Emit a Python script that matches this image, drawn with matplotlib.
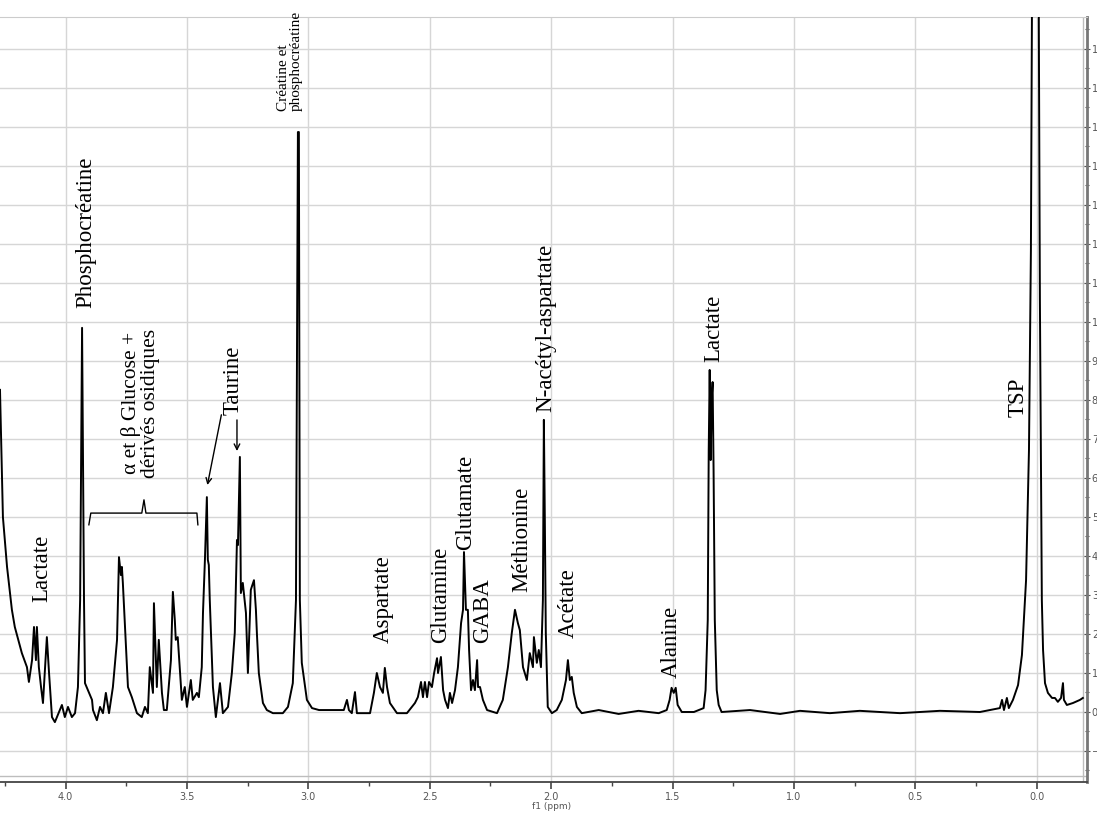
import numpy as np
import matplotlib
matplotlib.use('Agg')
import matplotlib.pyplot as plt
from matplotlib.ticker import MultipleLocator

# spectrum trace: chemical shift (ppm) and intensity
ppm = [4.270, 4.258, 4.241, 4.221, 4.209, 4.180, 4.159, 4.151, 4.138, 4.130,
       4.122, 4.118, 4.110, 4.101, 4.093, 4.077, 4.068, 4.056, 4.044, 4.015,
       4.003, 3.990, 3.974, 3.961, 3.949, 3.940, 3.932, 3.924, 3.920, 3.908,
       3.891, 3.887, 3.871, 3.858, 3.846, 3.834, 3.821, 3.805, 3.788, 3.780,
       3.772, 3.768, 3.764, 3.756, 3.743, 3.727, 3.706, 3.686, 3.673, 3.661,
       3.653, 3.640, 3.636, 3.628, 3.624, 3.616, 3.603, 3.595, 3.583, 3.566,
       3.558, 3.550, 3.546, 3.538, 3.521, 3.509, 3.500, 3.484, 3.476, 3.459,
       3.451, 3.439, 3.434, 3.426, 3.418, 3.414, 3.410, 3.406, 3.393, 3.381,
       3.364, 3.352, 3.331, 3.315, 3.303, 3.294, 3.290, 3.282, 3.278, 3.270,
       3.257, 3.249, 3.237, 3.233, 3.224, 3.216, 3.212, 3.204, 3.187, 3.171,
       3.146, 3.105, 3.084, 3.064, 3.051, 3.043, 3.039, 3.035, 3.027, 3.006,
       2.985, 2.956, 2.903, 2.854, 2.841, 2.833, 2.821, 2.808, 2.800, 2.746,
       2.730, 2.718, 2.705, 2.693, 2.685, 2.676, 2.664, 2.635, 2.594, 2.561,
       2.549, 2.536, 2.528, 2.520, 2.511, 2.503, 2.491, 2.482, 2.470, 2.466,
       2.454, 2.445, 2.437, 2.425, 2.417, 2.408, 2.396, 2.384, 2.371, 2.363,
       2.359, 2.351, 2.343, 2.338, 2.330, 2.322, 2.314, 2.305, 2.301, 2.293,
       2.281, 2.264, 2.223, 2.199, 2.178, 2.162, 2.149, 2.137, 2.129, 2.116,
       2.100, 2.088, 2.075, 2.071, 2.059, 2.051, 2.042, 2.034, 2.030, 2.026,
       2.022, 2.014, 1.997, 1.977, 1.956, 1.939, 1.931, 1.923, 1.915, 1.907,
       1.894, 1.874, 1.804, 1.722, 1.640, 1.557, 1.524, 1.512, 1.504, 1.495,
       1.487, 1.479, 1.462, 1.412, 1.372, 1.364, 1.355, 1.351, 1.347, 1.343,
       1.339, 1.335, 1.331, 1.326, 1.318, 1.310, 1.298, 1.181, 1.057, 0.975,
       0.852, 0.729, 0.563, 0.399, 0.234, 0.152, 0.143, 0.135, 0.123, 0.115,
       0.098, 0.077, 0.061, 0.044, 0.032, 0.024, 0.016, 0.005, -0.005, -0.013,
       -0.021, -0.026, -0.034, -0.046, -0.063, -0.075, -0.087, -0.100, -0.108, -0.112,
       -0.124, -0.149, -0.178, -0.190]
intensity = [8.26, 5.00, 3.72, 2.62, 2.18, 1.51, 1.15, 0.77, 1.33, 2.18,
             1.33, 2.18, 1.15, 0.64, 0.23, 1.92, 1.00, -0.13, -0.26, 0.18,
             -0.13, 0.13, -0.13, -0.03, 0.64, 2.87, 9.85, 2.87, 0.74, 0.56,
             0.31, 0.05, -0.21, 0.13, -0.03, 0.49, -0.03, 0.64, 1.85, 3.97,
             3.51, 3.72, 3.31, 2.28, 0.64, 0.38, -0.03, -0.13, 0.13, -0.03,
             1.15, 0.49, 2.79, 1.33, 0.64, 1.85, 0.49, 0.05, 0.05, 1.33,
             3.08, 2.36, 1.85, 1.92, 0.31, 0.64, 0.13, 0.82, 0.31, 0.49,
             0.38, 1.15, 2.54, 3.90, 5.51, 3.90, 3.77, 2.87, 0.64, -0.13,
             0.74, -0.03, 0.13, 1.00, 2.03, 4.41, 4.28, 6.54, 3.05, 3.31,
             2.54, 1.00, 3.13, 3.21, 3.38, 2.62, 2.03, 1.00, 0.23, 0.05,
             -0.03, -0.03, 0.13, 0.74, 2.87, 14.87, 14.87, 2.87, 1.26, 0.31,
             0.10, 0.05, 0.05, 0.05, 0.31, 0.05, -0.03, 0.51, -0.03, -0.03,
             0.49, 1.00, 0.64, 0.49, 1.13, 0.64, 0.23, -0.03, -0.03, 0.23,
             0.38, 0.77, 0.38, 0.77, 0.38, 0.77, 0.64, 1.00, 1.38, 1.00,
             1.41, 0.56, 0.31, 0.10, 0.49, 0.23, 0.56, 1.15, 2.28, 2.62,
             4.10, 2.62, 2.62, 1.59, 0.56, 0.82, 0.56, 1.33, 0.64, 0.64,
             0.31, 0.05, -0.03, 0.31, 1.15, 2.03, 2.62, 2.28, 2.10, 1.15,
             0.82, 1.51, 1.15, 1.92, 1.26, 1.59, 1.15, 2.87, 7.49, 4.92,
             2.03, 0.13, -0.03, 0.05, 0.31, 0.82, 1.33, 0.82, 0.90, 0.49,
             0.13, -0.03, 0.05, -0.05, 0.03, -0.03, 0.05, 0.31, 0.62, 0.49,
             0.62, 0.18, 0.00, 0.00, 0.10, 0.56, 2.36, 6.72, 8.77, 6.46,
             8.00, 8.46, 6.21, 2.36, 0.56, 0.18, 0.00, 0.05, -0.05, 0.03,
             -0.03, 0.03, -0.03, 0.03, 0.00, 0.10, 0.31, 0.05, 0.36, 0.10,
             0.31, 0.69, 1.46, 3.38, 6.72, 11.85, 23.4, 33.6, 23.4, 10.56,
             2.87, 1.59, 0.74, 0.49, 0.36, 0.36, 0.26, 0.36, 0.74, 0.31,
             0.18, 0.23, 0.31, 0.36]

# peak labels: text, ppm position, bottom of text (intensity units)
labels = ['Lactate', 'Phosphocréatine', 'Taurine', 'Aspartate', 'Glutamine',
          'Glutamate', 'GABA', 'Méthionine', 'N-acétyl-aspartate', 'Acétate',
          'Alanine', 'Lactate', 'TSP']
label_ppm = [4.097, 3.916, 3.311, 2.693, 2.454, 2.351, 2.281, 2.120, 2.022,
             1.930, 1.504, 1.331, 0.077]
label_base = [2.82, 10.36, 7.62, 1.77, 1.77, 4.15, 1.77, 3.08, 7.69, 1.90,
              0.87, 8.97, 7.56]

xmin, xmax = 4.270, -0.207
ymin, ymax = -1.795, 17.82

fig = plt.figure(figsize=(10.97, 8.15), dpi=100)
ax = fig.add_axes([0.0, 33 / 815, 1087 / 1097, 765 / 815])

grid_c = '#d6d6d6'
for x in np.arange(0.0, 4.01, 0.5):
    ax.axvline(x, color=grid_c, lw=1.0, zorder=0)
for y in np.arange(-1, 18, 1):
    ax.axhline(y, color=grid_c, lw=1.0, zorder=0)
ax.axhline(-1.64, color='#bdbdbd', lw=1.0, zorder=0)
ax.axvline(-0.190, color='#bdbdbd', lw=1.0, zorder=0)

ax.plot(ppm, intensity, color='black', lw=1.4, zorder=3)

ax.set_xlim(xmin, xmax)
ax.set_ylim(ymin, ymax)

ax.spines['left'].set_visible(False)
ax.spines['top'].set_color('#cccccc')
ax.spines['bottom'].set_color('#444444')
ax.spines['bottom'].set_linewidth(1.3)
ax.spines['right'].set_color('#777777')
ax.spines['right'].set_linewidth(2.0)

ax.xaxis.set_major_locator(MultipleLocator(0.5))
ax.xaxis.set_minor_locator(MultipleLocator(0.25))
ax.set_xticks(np.arange(0.0, 4.01, 0.5))
ax.set_xticklabels(['%.1f' % v for v in np.arange(0.0, 4.01, 0.5)])
ax.tick_params(axis='x', which='major', direction='out', length=5, width=1.2,
               color='#444444', labelsize=7, labelcolor='#555555', pad=2)
ax.tick_params(axis='x', which='minor', direction='out', length=3, width=1.0,
               color='#444444')

ax.yaxis.tick_right()
ax.yaxis.set_major_locator(MultipleLocator(1))
ax.yaxis.set_minor_locator(MultipleLocator(0.5))
ax.tick_params(axis='y', which='major', direction='inout', length=5, width=0.8,
               color='#555555', labelsize=7, labelcolor='#555555', pad=1)
ax.tick_params(axis='y', which='minor', direction='inout', length=3, width=0.8,
               color='#555555')

ax.text(2.0, -0.026, 'f1 (ppm)', transform=ax.get_xaxis_transform(),
        ha='center', va='top', fontsize=6.5, color='#555555')

serif = ['Liberation Serif', 'DejaVu Serif']
for t, x, b in zip(labels, label_ppm, label_base):
    ax.text(x, b, t, rotation=90, ha='center', va='bottom', fontsize=16.5,
            family=serif, zorder=4)

ax.text(3.693, 6.0, 'α et β Glucose +\ndérivés osidiques', rotation=90,
        ha='center', va='bottom', fontsize=15.5, family=serif,
        multialignment='center', linespacing=1.0, zorder=4)
ax.text(3.075, 15.4, 'Créatine et\nphosphocréatine', rotation=90,
        ha='center', va='bottom', fontsize=11, family=serif,
        multialignment='left', linespacing=1.0, zorder=4)

# brace over the glucose region
bx = [3.904, 3.896, 3.686, 3.677, 3.669, 3.459, 3.455]
by = [4.80, 5.10, 5.10, 5.44, 5.10, 5.10, 4.80]
ax.plot(bx, by, color='black', lw=1.0, zorder=4)

# taurine arrows
ax.annotate('', xy=(3.418, 5.75), xytext=(3.356, 7.69),
            arrowprops=dict(arrowstyle='->', color='black', lw=1.0))
ax.annotate('', xy=(3.294, 6.62), xytext=(3.294, 7.56),
            arrowprops=dict(arrowstyle='->', color='black', lw=1.0))

fig.savefig('out.png', dpi=100)
